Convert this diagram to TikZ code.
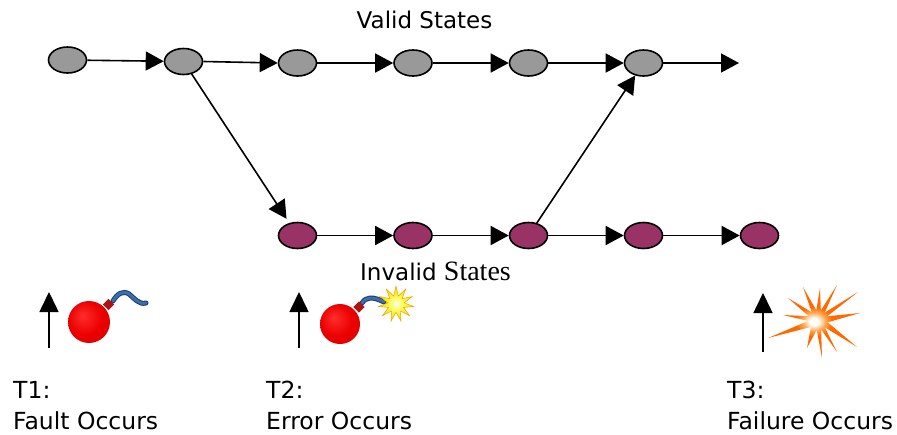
\documentclass[tikz,border=0pt]{standalone}
\usepackage{fontspec}
\setmainfont{DejaVu Sans}
\newfontfamily\serifpart{Liberation Serif}
\usetikzlibrary{arrows.meta,shapes.geometric}

\definecolor{validfill}{RGB}{153,153,153}
\definecolor{invalidfill}{RGB}{153,51,102}
\definecolor{bombA}{RGB}{255,45,45}
\definecolor{bombB}{RGB}{235,0,0}
\definecolor{bombC}{RGB}{150,0,0}
\definecolor{capred}{RGB}{170,20,20}
\definecolor{fusedark}{RGB}{30,60,110}
\definecolor{fuseblue}{RGB}{60,110,170}
\definecolor{boomorange}{RGB}{255,105,0}
\definecolor{boomlight}{RGB}{255,175,90}
\definecolor{sparkyellow}{RGB}{255,225,0}
\definecolor{sparkorange}{RGB}{245,150,0}

\pgfdeclareradialshading{bombshade}{\pgfpoint{-8bp}{8bp}}{%
  color(0bp)=(bombA); color(20bp)=(bombB); color(42bp)=(bombB!80!bombC); color(50bp)=(bombC)}
\pgfdeclareradialshading{boomshade}{\pgfpoint{0bp}{0bp}}{%
  color(0bp)=(white); color(2.5bp)=(white); color(6bp)=(boomlight); color(10bp)=(boomorange); color(50bp)=(boomorange)}
\pgfdeclareradialshading{sparkshade}{\pgfpoint{0bp}{0bp}}{%
  color(0bp)=(white); color(8bp)=(yellow!60!white); color(20bp)=(sparkyellow); color(50bp)=(sparkorange)}

\tikzset{
  stateshape/.style={ellipse, draw=black, line width=1.6pt, inner sep=0pt,
    minimum width=38pt, minimum height=26pt},
  validstate/.style={stateshape, fill=validfill},
  invalidstate/.style={stateshape, fill=invalidfill},
  flow/.style={line width=1.6pt, -{Triangle[length=18pt,width=19pt]}},
  timeline/.style={line width=1.6pt, -{Triangle[length=20pt,width=19pt]}},
  heading/.style={inner sep=0pt, font=\fontsize{23}{27}\selectfont},
  timelabel/.style={inner sep=0pt, anchor=base west, text depth=0pt,
    font=\fontsize{23.5}{28}\selectfont},
  fuse/.style={line cap=round, line join=round},
}

\begin{document}
\begin{tikzpicture}[x=1pt, y=-1pt]
  \useasboundingbox (0,0) rectangle (897,434);

  % valid states (upper row)
  \node[validstate] (v1) at (67.5,60) {};
  \node[validstate] (v2) at (183.5,61.5) {};
  \node[validstate] (v3) at (297.5,63) {};
  \node[validstate] (v4) at (413,63) {};
  \node[validstate] (v5) at (528.5,63) {};
  \node[validstate] (v6) at (643.5,63) {};
  \coordinate (vend) at (739,63);

  % invalid states (lower row)
  \node[invalidstate] (i1) at (297.5,235.5) {};
  \node[invalidstate] (i2) at (413,235.5) {};
  \node[invalidstate] (i3) at (528.5,235.5) {};
  \node[invalidstate] (i4) at (643.5,235.5) {};
  \node[invalidstate] (i5) at (759.5,235.5) {};

  \draw[flow] (v1) -- (v2);
  \draw[flow] (v2.east) -- (v3.west);
  \draw[flow] (v3) -- (v4);
  \draw[flow] (v4) -- (v5);
  \draw[flow] (v5) -- (v6);
  \draw[flow] (v6) -- (vend);

  \draw[flow] (i1) -- (i2);
  \draw[flow] (i2) -- (i3);
  \draw[flow] (i3) -- (i4);
  \draw[flow] (i4) -- (i5);

  \draw[flow, shorten >=5pt] (v2) -- (i1);
  \draw[flow] (i3) -- (v6);

  % row headings
  \node[heading, anchor=base] (validlbl) at (424.5,28) {Valid States};
  \node[heading, anchor=base west] (invalidlbl) at (360,280)
    {Invalid {\serifpart\fontsize{28}{32}\selectfont States}};

  % time markers
  \coordinate (m1a) at (49,348);  \coordinate (m1b) at (49,292);
  \coordinate (m2a) at (299,348); \coordinate (m2b) at (299,292);
  \coordinate (m3a) at (763,352); \coordinate (m3b) at (763,293);
  \draw[timeline] (m1a) -- (m1b);
  \draw[timeline] (m2a) -- (m2b);
  \draw[timeline] (m3a) -- (m3b);

  % T1: bomb with an unlit fuse
  \draw[fuse, fusedark, line width=5pt]
    (113,301) .. controls (117,294) and (123,290) .. (129,294)
              .. controls (134,298) and (139,305) .. (146,303);
  \draw[fuse, fuseblue, line width=3pt]
    (113,301) .. controls (117,294) and (123,290) .. (129,294)
              .. controls (134,298) and (139,305) .. (146,303);
  \fill[capred, rotate around={45:(108.5,304.5)}] (104.5,300.5) rectangle (112.5,308.5);
  \shade[shading=bombshade] (89,322) circle (21);

  % T2: bomb with a lit fuse
  \draw[fuse, fusedark, line width=5pt]
    (362,303) .. controls (366,297) and (372,296) .. (384,302);
  \draw[fuse, fuseblue, line width=3pt]
    (362,303) .. controls (366,297) and (372,296) .. (384,302);
  \fill[capred, rotate around={45:(359,307)}] (355,303) rectangle (363,311);
  \shade[shading=bombshade] (340,324) circle (20);
  \node[star, star points=11, star point ratio=2.2, minimum size=36pt, inner sep=0pt,
        shading=sparkshade, draw=sparkorange, line width=0.4pt] (spark) at (396,304) {};

  % T3: explosion
  \shade[shading=boomshade, shift={(818,320)}]
    (42,-7) -- (9.3,-3.8) -- (40,-28) -- (6.7,-7.4) -- (19,-35) -- (2.8,-9.6)
    -- (2,-32) -- (-1.7,-9.8) -- (-15,-33) -- (-6.3,-7.8) -- (-30,-22) -- (-9.3,-3.8)
    -- (-35,-5) -- (-10,1) -- (-50,18) -- (-7.1,7.0) -- (-11,28) -- (-1.3,9.9)
    -- (4,38) -- (3.1,9.5) -- (19,32) -- (6.8,7.3) -- (39,27) -- (9.7,2.3) -- cycle;

  % time labels
  \node[timelabel] (t1) at (13,398) {T1:};
  \node[timelabel] (t1txt) at (13,429) {Fault Occurs};
  \node[timelabel] (t2) at (266,398) {T2:};
  \node[timelabel] (t2txt) at (266,429) {Error Occurs};
  \node[timelabel] (t3) at (727,398) {T3:};
  \node[timelabel] (t3txt) at (727,429) {Failure Occurs};
\end{tikzpicture}
\end{document}
